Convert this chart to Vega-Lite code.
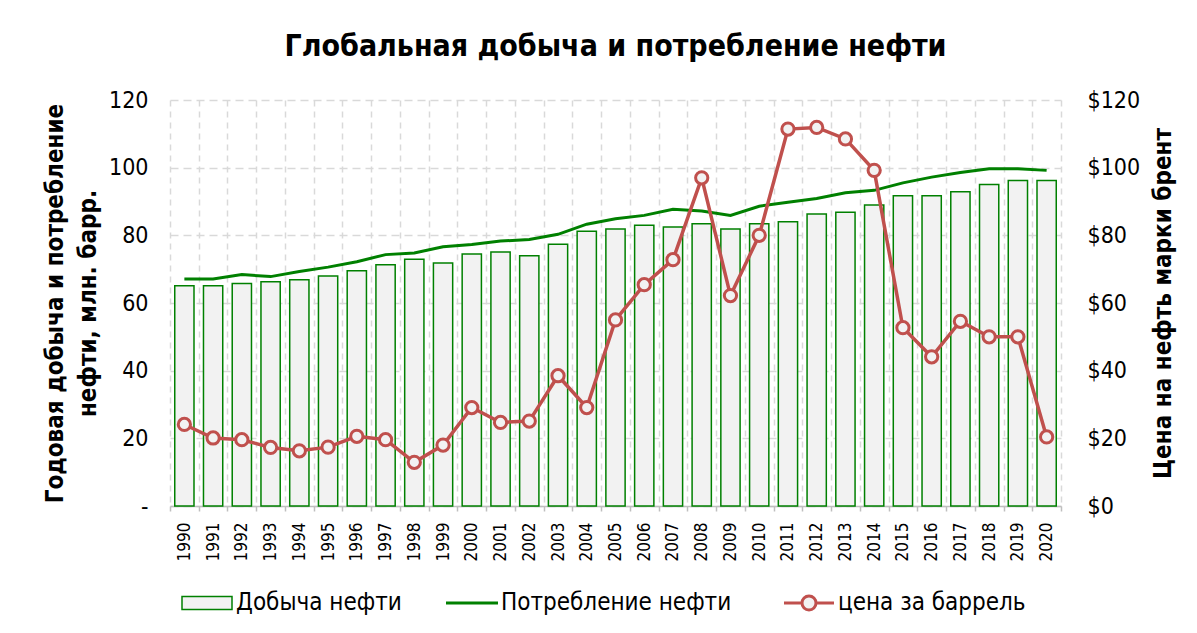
{
  "$schema": "https://vega.github.io/schema/vega-lite/v6.json",
  "width": 891,
  "height": 406,
  "autosize": {"type": "none"},
  "padding": {"left": 170, "top": 100, "right": 136, "bottom": 127},
  "background": "white",
  "title": {
    "text": "Глобальная добыча и потребление нефти",
    "font": "DejaVu Sans Condensed",
    "fontWeight": "bold",
    "fontSize": 30,
    "color": "#000000",
    "anchor": "middle",
    "baseline": "alphabetic",
    "offset": 3
  },
  "data": {
    "values": [
      {"year": 1990, "prod": 65.1, "cons": 67.1, "price": 24.1},
      {"year": 1991, "prod": 65.1, "cons": 67.1, "price": 20.1},
      {"year": 1992, "prod": 65.8, "cons": 68.4, "price": 19.6},
      {"year": 1993, "prod": 66.3, "cons": 67.8, "price": 17.3},
      {"year": 1994, "prod": 66.9, "cons": 69.3, "price": 16.3},
      {"year": 1995, "prod": 68.0, "cons": 70.6, "price": 17.4},
      {"year": 1996, "prod": 69.5, "cons": 72.2, "price": 20.6},
      {"year": 1997, "prod": 71.3, "cons": 74.3, "price": 19.6},
      {"year": 1998, "prod": 72.9, "cons": 74.8, "price": 12.9},
      {"year": 1999, "prod": 71.8, "cons": 76.6, "price": 18.0},
      {"year": 2000, "prod": 74.5, "cons": 77.3, "price": 29.1},
      {"year": 2001, "prod": 75.1, "cons": 78.3, "price": 24.7},
      {"year": 2002, "prod": 74.0, "cons": 78.8, "price": 25.1},
      {"year": 2003, "prod": 77.4, "cons": 80.3, "price": 38.5},
      {"year": 2004, "prod": 81.2, "cons": 83.3, "price": 29.1},
      {"year": 2005, "prod": 81.9, "cons": 84.9, "price": 55.0},
      {"year": 2006, "prod": 83.0, "cons": 85.9, "price": 65.4},
      {"year": 2007, "prod": 82.5, "cons": 87.7, "price": 72.8},
      {"year": 2008, "prod": 83.4, "cons": 87.2, "price": 97.0},
      {"year": 2009, "prod": 81.9, "cons": 85.9, "price": 62.2},
      {"year": 2010, "prod": 83.4, "cons": 88.6, "price": 80.0},
      {"year": 2011, "prod": 84.0, "cons": 89.8, "price": 111.4},
      {"year": 2012, "prod": 86.3, "cons": 90.9, "price": 111.9},
      {"year": 2013, "prod": 86.8, "cons": 92.6, "price": 108.5},
      {"year": 2014, "prod": 89.0, "cons": 93.3, "price": 99.2},
      {"year": 2015, "prod": 91.7, "cons": 95.5, "price": 52.7},
      {"year": 2016, "prod": 91.7, "cons": 97.2, "price": 44.1},
      {"year": 2017, "prod": 92.9, "cons": 98.6, "price": 54.6},
      {"year": 2018, "prod": 95.0, "cons": 99.7, "price": 50.0},
      {"year": 2019, "prod": 96.2, "cons": 99.7, "price": 50.0},
      {"year": 2020, "prod": 96.2, "cons": 99.2, "price": 20.4}
    ]
  },
  "config": {
    "view": {"stroke": null},
    "axis": {
      "labelFont": "DejaVu Sans Condensed",
      "titleFont": "DejaVu Sans Condensed",
      "labelColor": "#000000",
      "titleColor": "#000000"
    },
    "legend": {
      "title": null,
      "orient": "bottom",
      "direction": "horizontal",
      "offset": 5,
      "labelFont": "DejaVu Sans Condensed",
      "labelFontSize": 24,
      "labelColor": "#000000",
      "labelLimit": 400,
      "symbolSize": 400,
      "symbolOpacity": 1,
      "labelOffset": 17,
      "padding": 25
    }
  },
  "encoding": {
    "x": {
      "field": "year",
      "type": "ordinal",
      "scale": {"paddingInner": 0, "paddingOuter": 0},
      "axis": {
        "title": null,
        "tickBand": "extent",
        "grid": true,
        "gridColor": "#d9d9d9",
        "gridDash": [6, 5],
        "gridWidth": 1.5,
        "domainColor": "#bfbfbf",
        "domainWidth": 1.5,
        "tickColor": "#bfbfbf",
        "tickSize": 5,
        "tickWidth": 1.5,
        "labelAngle": -90,
        "labelFontSize": 17,
        "labelPadding": 11
      }
    }
  },
  "layer": [
    {
      "mark": {"type": "bar", "width": {"band": 0.67}, "fill": "#f2f2f2", "strokeWidth": 1.5},
      "encoding": {
        "y": {
          "field": "prod",
          "type": "quantitative",
          "scale": {"domain": [0, 120]},
          "axis": {
            "title": ["Годовая добыча и потребление", "нефти, млн. барр."],
            "titleFontSize": 24,
            "titleFontWeight": "bold",
            "titleLineHeight": 33,
            "titlePadding": 8,
            "values": [0, 20, 40, 60, 80, 100, 120],
            "labelExpr": "datum.value === 0 ? '-' : datum.label",
            "labelFontSize": 23,
            "labelPadding": 22,
            "ticks": false,
            "domain": false,
            "grid": true,
            "gridColor": "#d9d9d9",
            "gridDash": [8, 5],
            "gridWidth": 1.5
          }
        },
        "stroke": {
          "datum": "Добыча нефти",
          "type": "nominal",
          "scale": {"domain": ["Добыча нефти"], "range": ["#008000"]},
          "legend": {
            "symbolType": "M-2.5,-0.65H2.5V0.65H-2.5Z",
            "symbolFillColor": "#f2f2f2",
            "symbolStrokeWidth": 1.5
          }
        }
      }
    },
    {
      "mark": {"type": "line", "strokeWidth": 3, "color": "#008000"},
      "encoding": {
        "y": {"field": "cons", "type": "quantitative", "scale": {"domain": [0, 120]}, "axis": null},
        "opacity": {
          "datum": "Потребление  нефти",
          "type": "nominal",
          "scale": {"domain": ["Потребление  нефти"], "range": [1]},
          "legend": {
            "symbolType": "M-2.6,0H2.6",
            "symbolStrokeColor": "#008000",
            "symbolStrokeWidth": 3
          }
        }
      }
    },
    {
      "mark": {"type": "line", "strokeWidth": 3.5, "color": "#c0504d"},
      "encoding": {
        "y": {
          "field": "price",
          "type": "quantitative",
          "scale": {"domain": [0, 120]},
          "axis": {
            "orient": "right",
            "title": "Цена на нефть марки брент",
            "titleAngle": 270,
            "titleBaseline": "top",
            "titleFontSize": 24,
            "titleFontWeight": "bold",
            "titlePadding": 12,
            "values": [0, 20, 40, 60, 80, 100, 120],
            "labelExpr": "'$' + datum.value",
            "labelFontSize": 23,
            "labelPadding": 26,
            "ticks": false,
            "domain": false,
            "grid": false
          }
        },
        "opacity": {
          "datum": "цена за баррель",
          "type": "nominal",
          "scale": {"domain": ["цена за баррель"], "range": [1]},
          "legend": {
            "symbolType": "M-2.5,0H-0.7M0.7,0H2.5M-0.7,0A0.7,0.7 0 1,1 0.7,0A0.7,0.7 0 1,1 -0.7,0",
            "symbolFillColor": "#f2f2f2",
            "symbolStrokeColor": "#c0504d",
            "symbolStrokeWidth": 3
          }
        }
      }
    },
    {
      "mark": {"type": "point", "shape": "circle", "filled": false, "fill": "#f2f2f2", "stroke": "#c0504d", "strokeWidth": 3, "size": 150, "opacity": 1},
      "encoding": {
        "y": {"field": "price", "type": "quantitative", "scale": {"domain": [0, 120]}, "axis": null}
      }
    }
  ],
  "resolve": {"scale": {"y": "independent", "opacity": "independent"}}
}
